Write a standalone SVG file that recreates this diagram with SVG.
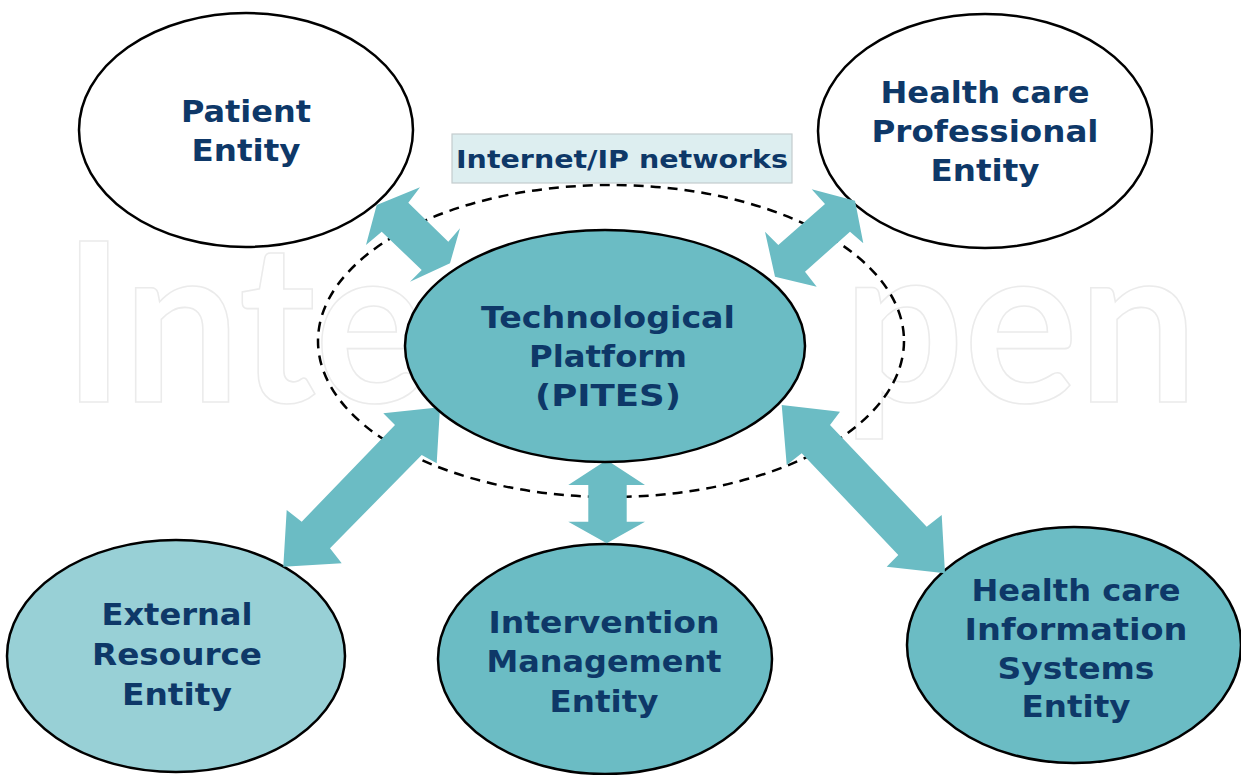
<svg xmlns="http://www.w3.org/2000/svg" width="1241" height="775" viewBox="0 0 1241 775">
<style>
.wm{font-family:Lato,"Open Sans","DejaVu Sans",sans-serif;font-weight:bold;font-size:222px;fill:none;stroke:#ebebeb;stroke-width:1.6}
.lbl{font-family:"DejaVu Sans","Liberation Sans",sans-serif;font-weight:bold;font-size:31px;fill:#0E3868;text-anchor:middle}
.net{font-family:"DejaVu Sans","Liberation Sans",sans-serif;font-weight:bold;font-size:24px;fill:#0E3868;text-anchor:middle}
.white{fill:#ffffff;stroke:#000;stroke-width:2.5}
.teal{fill:#6BBCC4;stroke:#000;stroke-width:2.5}
.light{fill:#98D0D6;stroke:#000;stroke-width:2.5}
.arrow{fill:#6BBCC4;stroke:none}
</style>
<rect x="0" y="0" width="1241" height="775" fill="#ffffff"/>
<g id="watermark">
<text class="wm" x="63" y="402" textLength="363" lengthAdjust="spacingAndGlyphs">Inte</text>
<text class="wm" x="843" y="402" textLength="355" lengthAdjust="spacingAndGlyphs">pen</text>
</g>

<g id="patient">
<ellipse class="white" cx="246" cy="130" rx="167" ry="117"/>
<text class="lbl" x="246" y="122" textLength="130" lengthAdjust="spacingAndGlyphs">Patient</text>
<text class="lbl" x="246" y="161" textLength="109" lengthAdjust="spacingAndGlyphs">Entity</text>
</g>

<g id="professional">
<ellipse class="white" cx="985" cy="131" rx="167" ry="117"/>
<text class="lbl" x="985" y="103" textLength="209" lengthAdjust="spacingAndGlyphs">Health care</text>
<text class="lbl" x="985" y="142" textLength="227" lengthAdjust="spacingAndGlyphs">Professional</text>
<text class="lbl" x="985" y="181" textLength="109" lengthAdjust="spacingAndGlyphs">Entity</text>
</g>

<g id="network">
<ellipse cx="611" cy="341" rx="293" ry="156" fill="none" stroke="#000" stroke-width="2.5" stroke-dasharray="10 7"/>
<rect x="452" y="134" width="340" height="49" fill="#DDEEF0" stroke="#C4CCCE" stroke-width="1.2"/>
<text class="net" x="622" y="168" textLength="332" lengthAdjust="spacingAndGlyphs">Internet/IP networks</text>
</g>

<g id="external">
<ellipse class="light" cx="176" cy="656" rx="169" ry="116"/>
<text class="lbl" x="177" y="625" textLength="151" lengthAdjust="spacingAndGlyphs">External</text>
<text class="lbl" x="177" y="665" textLength="170" lengthAdjust="spacingAndGlyphs">Resource</text>
<text class="lbl" x="177" y="705" textLength="110" lengthAdjust="spacingAndGlyphs">Entity</text>
</g>

<g id="intervention">
<ellipse class="teal" cx="605" cy="659" rx="167" ry="115"/>
<text class="lbl" x="604" y="633" textLength="231" lengthAdjust="spacingAndGlyphs">Intervention</text>
<text class="lbl" x="604" y="672" textLength="235" lengthAdjust="spacingAndGlyphs">Management</text>
<text class="lbl" x="604" y="712" textLength="109" lengthAdjust="spacingAndGlyphs">Entity</text>
</g>

<g id="his">
<ellipse class="teal" cx="1074" cy="645" rx="167" ry="118"/>
<text class="lbl" x="1076" y="601" textLength="209" lengthAdjust="spacingAndGlyphs">Health care</text>
<text class="lbl" x="1076" y="640" textLength="223" lengthAdjust="spacingAndGlyphs">Information</text>
<text class="lbl" x="1076" y="679" textLength="157" lengthAdjust="spacingAndGlyphs">Systems</text>
<text class="lbl" x="1076" y="717" textLength="109" lengthAdjust="spacingAndGlyphs">Entity</text>
</g>

<g id="connectors">
<polygon class="arrow" points="376.7,205 420,187.3 408.3,202.7 448.3,241.7 460,228.3 450,263.3 410,281.7 421.7,270 381.7,231.7 366,245"/>
<polygon class="arrow" points="855,200.7 863.3,243.3 850,231.7 805,271.7 816.7,286.7 775,276.7 765,231.7 778.3,245 825,204 811.7,189.3"/>
<polygon class="arrow" points="440,407.3 436.7,463.3 421.7,455 330,548.3 341.7,563.3 283.3,566.7 286.7,510 301.7,521.7 395,425 383.3,413.3"/>
<polygon class="arrow" points="606.7,460 645,485 626.7,485 626.7,521.7 645,521.7 606.7,543.3 568.3,521.7 588.3,521.7 588.3,485 568.3,485"/>
<polygon class="arrow" points="781.7,405 840,411.7 830,425 926.7,526.7 941.7,515 945,573.3 886.7,566.7 898.3,555 801.7,453.3 786.7,465"/>
</g>

<g id="platform">
<ellipse class="teal" cx="605" cy="346" rx="200" ry="116"/>
<text class="lbl" x="608" y="328" textLength="254" lengthAdjust="spacingAndGlyphs">Technological</text>
<text class="lbl" x="608" y="367" textLength="158" lengthAdjust="spacingAndGlyphs">Platform</text>
<text class="lbl" x="608" y="406" textLength="146" lengthAdjust="spacingAndGlyphs">(PITES)</text>
</g>
</svg>
